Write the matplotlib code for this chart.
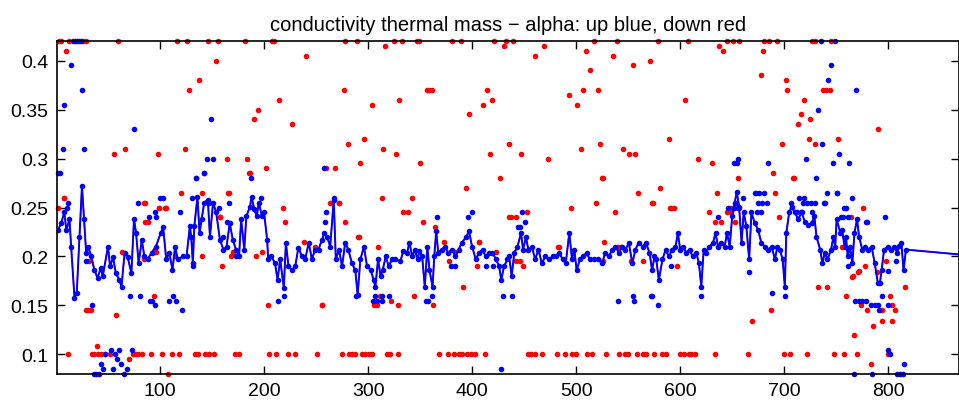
import matplotlib
matplotlib.use("Agg")
import matplotlib.pyplot as plt

# ---- donnees ----
# courbe lissee (bleue)
ligne_x = [2, 5, 8, 10, 13, 14.6, 17.8, 20, 22.6, 25, 27, 29, 31, 34, 37, 40, 43, 45, 50, 52, 55, 57.5, 61, 63, 66,
           69, 72.5, 75, 77, 79.5, 82.5, 85, 88, 92, 96, 100.7, 103, 106, 109, 112, 114.5, 117, 122, 125.5, 128.7,
           130, 131.6, 133, 136, 138, 140, 142.5, 146, 148, 151, 154, 157.6, 161, 164, 167, 170, 173, 176, 178,
           181, 183, 186.5, 188, 190.7, 193, 195, 198, 200, 203, 204, 207, 210.6, 213, 215.5, 219, 221, 223.5,
           226.7, 230, 233, 236.5, 239.5, 243, 246, 249, 252.4, 255.6, 258, 260.7, 263.6, 267, 269, 272, 275, 278,
           281, 284.5, 287.7, 290, 292.6, 296, 299, 302.5, 305.4, 307, 309.6, 312, 314, 317, 319.8, 323, 326, 331,
           334, 337.5, 339.8, 342.4, 345, 347.6, 349.4, 352, 354.5, 357, 359, 362, 363.6, 365.5, 367.4, 370.6,
           373.8, 377, 381, 384, 387, 390, 394.4, 397, 400, 403.6, 406.6, 410, 413, 416.5, 419.5, 423, 426, 428,
           430.7, 434, 435.6, 438, 440.6, 443.6, 447, 449, 451.8, 454, 457.5, 460.6, 463.8, 467, 470.3, 473.5,
           477.3, 480.5, 483.7, 487, 490, 493.4, 496, 498.2, 500.5, 503.6, 506.8, 510, 513, 516.7, 520.8, 525, 528,
           531.4, 534.6, 537.7, 541, 544, 547.4, 550.6, 554, 557, 560, 564, 567, 570.5, 573, 575.3, 577, 579.5,
           583, 586, 589, 592.3, 595.5, 597.8, 600, 602.6, 605.8, 609, 612, 615.5, 618, 620.3, 622.6, 625, 628,
           631.6, 634, 636.4, 639.5, 642.7, 645, 647.6, 650, 652.4, 654.4, 656.6, 659, 661, 663.6, 666.3, 668.5,
           671.7, 675, 678, 681.3, 684.6, 688, 691, 693.5, 695.8, 698.5, 700.6, 702, 704.8, 707, 710.2, 713.4,
           716.7, 720, 723, 726.3, 729, 731, 734.6, 736.7, 739, 741.6, 745, 747.3, 749, 750.4, 754, 755.6, 758,
           759.4, 761, 763.2, 765.5, 767.5, 770, 772, 775, 777.7, 781, 784, 787, 790, 792, 793.6, 796, 799.5, 803,
           806, 808.6, 810.5, 812.6, 814.7, 817, 869]
ligne_y = [0.227, 0.234, 0.245, 0.227, 0.238, 0.21, 0.158, 0.163, 0.22, 0.272, 0.238, 0.204, 0.21, 0.2, 0.186,
           0.178, 0.188, 0.18, 0.21, 0.19, 0.199, 0.183, 0.176, 0.169, 0.204, 0.199, 0.183, 0.238, 0.224, 0.193,
           0.217, 0.2, 0.197, 0.204, 0.21, 0.224, 0.23, 0.197, 0.204, 0.186, 0.21, 0.197, 0.2, 0.2, 0.231, 0.22,
           0.193, 0.231, 0.261, 0.224, 0.238, 0.255, 0.258, 0.22, 0.255, 0.245, 0.217, 0.207, 0.21, 0.234, 0.217,
           0.207, 0.2, 0.238, 0.207, 0.241, 0.251, 0.261, 0.248, 0.241, 0.255, 0.241, 0.245, 0.217, 0.197, 0.2,
           0.193, 0.176, 0.197, 0.168, 0.214, 0.19, 0.186, 0.19, 0.209, 0.2, 0.197, 0.214, 0.197, 0.207, 0.207,
           0.217, 0.224, 0.22, 0.21, 0.258, 0.197, 0.207, 0.19, 0.214, 0.207, 0.193, 0.186, 0.161, 0.197, 0.21,
           0.19, 0.186, 0.176, 0.169, 0.197, 0.18, 0.186, 0.2, 0.19, 0.197, 0.197, 0.195, 0.206, 0.204, 0.214,
           0.2, 0.207, 0.197, 0.206, 0.2, 0.169, 0.21, 0.186, 0.169, 0.2, 0.226, 0.204, 0.207, 0.21, 0.204, 0.207,
           0.2, 0.207, 0.214, 0.22, 0.226, 0.21, 0.197, 0.204, 0.207, 0.2, 0.204, 0.204, 0.197, 0.19, 0.176, 0.19,
           0.197, 0.2, 0.18, 0.204, 0.21, 0.224, 0.207, 0.22, 0.207, 0.21, 0.197, 0.207, 0.193, 0.2, 0.197, 0.2,
           0.2, 0.204, 0.197, 0.193, 0.224, 0.197, 0.207, 0.186, 0.197, 0.2, 0.204, 0.197, 0.197, 0.197, 0.193,
           0.204, 0.2, 0.207, 0.21, 0.204, 0.21, 0.207, 0.214, 0.193, 0.207, 0.214, 0.21, 0.214, 0.204, 0.186,
           0.2, 0.197, 0.176, 0.197, 0.207, 0.2, 0.207, 0.21, 0.224, 0.207, 0.21, 0.204, 0.207, 0.2, 0.204,
           0.193, 0.169, 0.207, 0.204, 0.21, 0.214, 0.224, 0.21, 0.214, 0.21, 0.224, 0.21, 0.241, 0.255, 0.266,
           0.251, 0.214, 0.245, 0.231, 0.197, 0.245, 0.234, 0.227, 0.214, 0.21, 0.207, 0.21, 0.197, 0.21, 0.207,
           0.197, 0.169, 0.224, 0.245, 0.251, 0.245, 0.238, 0.245, 0.235, 0.232, 0.234, 0.241, 0.22, 0.207, 0.193,
           0.204, 0.197, 0.207, 0.22, 0.21, 0.238, 0.224, 0.227, 0.21, 0.22, 0.2, 0.21, 0.193, 0.224, 0.238,
           0.22, 0.207, 0.21, 0.207, 0.21, 0.193, 0.173, 0.173, 0.186, 0.207, 0.21, 0.207, 0.21, 0.204, 0.211,
           0.214, 0.186, 0.207, 0.202]

# bornes ou les valeurs sont ecretees
val_haut = 0.42
val_bas_rouge = 0.1
val_bas_bleu = 0.08

# points bleus (up) hors de la courbe
bleu_haut_x = [16, 18, 20, 22, 24, 735, 749]
bleu_bas_x = [36.4, 38.7, 41.2, 65.4, 766.8, 784.5, 808, 811, 814]
bleu_x = [2, 4, 14.6, 8, 6.6, 25, 27, 75, 149, 145, 151, 135, 142, 187, 197, 12, 11, 29, 34.9, 70.8, 80.7, 90,
          92.7, 95, 109, 112.8, 115, 121, 213, 219, 43, 45, 46.8, 52.5, 54.8, 56.4, 58.6, 60.5, 62.8, 68.6, 73,
          79, 89, 95.6, 100, 103, 119, 96, 130.6, 134.7, 142.5, 147, 132, 157, 164, 161, 166, 146, 173, 257.7,
          267, 259, 260, 305, 309, 313, 307, 313, 320, 355.6, 357.5, 361, 288, 427.5, 430, 438, 540, 554.5, 556,
          573, 579, 365.8, 396, 400, 443.7, 448.4, 451, 446, 380, 383.5, 413, 420, 572, 620.3, 666.3, 688.7,
          700.6, 768.5, 772, 775, 779, 783, 787, 790.6, 791, 793.6, 800, 800, 802, 815.3, 797, 778.5, 759, 756.7,
          651.7, 655.5, 675, 683, 678, 706.5, 718, 722, 726, 729.5, 738.5, 712, 716, 744.6, 742.4, 768.7, 732.7,
          736.6, 752.9, 656, 652, 655, 684.6, 720.5, 746.6, 762.7, 731, 680.7, 741, 751, 765, 750.6, 739, 757,
          755, 761, 727, 779.4, 761, 799.5, 807, 636.5, 646, 660.5, 672, 676, 679, 674, 591, 714, 719]
bleu_y = [0.285, 0.285, 0.395, 0.355, 0.31, 0.37, 0.31, 0.33, 0.34, 0.3, 0.3, 0.28, 0.285, 0.28, 0.26, 0.255,
          0.25, 0.195, 0.15, 0.16, 0.16, 0.155, 0.155, 0.15, 0.155, 0.16, 0.155, 0.145, 0.155, 0.16, 0.09, 0.085,
          0.1, 0.105, 0.085, 0.1, 0.095, 0.105, 0.09, 0.085, 0.105, 0.255, 0.24, 0.245, 0.26, 0.26, 0.245, 0.24,
          0.26, 0.28, 0.285, 0.255, 0.19, 0.25, 0.235, 0.22, 0.255, 0.255, 0.2, 0.29, 0.26, 0.235, 0.245, 0.155,
          0.155, 0.155, 0.16, 0.16, 0.16, 0.155, 0.155, 0.16, 0.16, 0.085, 0.16, 0.16, 0.155, 0.16, 0.155, 0.16,
          0.15, 0.24, 0.24, 0.245, 0.23, 0.245, 0.235, 0.23, 0.19, 0.19, 0.19, 0.19, 0.16, 0.16, 0.184, 0.163,
          0.16, 0.155, 0.155, 0.155, 0.155, 0.15, 0.15, 0.15, 0.145, 0.16, 0.15, 0.105, 0.1, 0.09, 0.24, 0.235,
          0.25, 0.24, 0.25, 0.25, 0.255, 0.255, 0.245, 0.255, 0.255, 0.255, 0.255, 0.255, 0.255, 0.245, 0.245,
          0.395, 0.38, 0.37, 0.35, 0.315, 0.305, 0.3, 0.295, 0.295, 0.295, 0.3, 0.295, 0.295, 0.28, 0.265,
          0.265, 0.265, 0.26, 0.265, 0.255, 0.25, 0.24, 0.24, 0.245, 0.235, 0.19, 0.185, 0.195, 0.24, 0.25,
          0.26, 0.265, 0.265, 0.255, 0.245, 0.19, 0.26, 0.26]

# points rouges (down)
rouge_haut_x = [2.7, 5, 13, 26, 28.5, 60, 116, 126, 146, 156, 182, 207.7, 210, 278, 289, 325, 333, 347, 349,
                381, 389, 421, 433, 439, 517, 539, 579, 607.5, 645.3, 650.8, 657, 681, 685.5, 693, 727, 729.5,
                745]
rouge_bas_x = [11.4, 34.5, 37, 40, 43.6, 46.8, 51.6, 74, 76.5, 79, 83, 91.7, 102, 111.6, 118, 133.5, 136.5,
               143, 147, 152, 172, 176, 205, 211.6, 223.5, 230, 251, 275, 282, 284.5, 287, 294, 297, 300.6,
               303.5, 318, 321.5, 328.5, 368, 377, 382.5, 387, 390.6, 395.4, 399, 402.4, 412, 454, 457, 460,
               467, 481.5, 489, 495.6, 500, 510, 515, 528.7, 541, 547, 549.7, 558.6, 564, 567, 575, 582.4,
               586.6, 600.3, 603.6, 608.5, 610.7, 613.9, 633, 665.3, 699.6, 705.4, 722, 748, 757.5, 769.7, 799.3]
rouge_x = [10, 8, 55.7, 66, 98, 124, 128, 137.7, 154, 120, 140, 166, 164, 184, 186, 190, 194, 202, 214, 227,
           240, 316.7, 430.7, 460.6, 469, 509, 513, 535, 555, 276.5, 304, 330, 357, 359, 361, 397, 410.5, 414.7,
           419, 492.8, 501, 507, 521, 280.7, 296.4, 314, 326.6, 292.6, 350, 435, 417, 446.8, 473, 505, 523, 545,
           551, 557, 260, 268, 427, 525, 394.5, 559, 313, 342, 637.4, 641, 680, 571.4, 677.5, 701.6, 703, 737,
           740, 744, 605, 719, 715.7, 725, 713.5, 790, 589.5, 723.7, 751.4, 697.4, 729.5, 617, 631, 689, 655.6,
           709.6, 581, 635.7, 673, 691, 39.7, 70, 108, 29, 34, 58, 94, 204, 86, 220, 218, 2, 86, 98.7, 106, 160,
           158, 31.6, 198, 192.6, 170, 95.6, 238, 114.3, 391, 255.6, 344.6, 362.6, 306, 309, 291, 310, 334, 338,
           352.6, 364, 277.6, 263.6, 271.6, 406.6, 378, 384, 405, 423, 437, 442.6, 453, 442, 446, 495, 519, 537,
           527, 482.7, 553, 543, 783.5, 767.5, 785.8, 793.8, 804, 669.4, 687.5, 806.5, 794, 779.4, 774, 759.4,
           801.5, 804, 732.8, 741.5, 815.7, 765.6, 771, 789, 798, 695, 633, 653, 764, 776, 755.6, 627.7, 573.7,
           591.4, 648, 652, 597, 564, 777.7, 772, 766, 590, 594, 708.7, 645, 649, 654, 657, 639.6, 525.5, 573,
           540, 484, 449, 526, 311, 322.5, 329, 407, 435.5, 373, 165.6, 157.6, 186.5, 168.6, 249, 272, 290.6,
           256, 7.5, 31, 85, 88, 99, 105, 140, 63, 96, 130, 84.5]
rouge_y = [0.41, 0.26, 0.305, 0.31, 0.305, 0.31, 0.37, 0.38, 0.4, 0.265, 0.265, 0.265, 0.3, 0.3, 0.285, 0.34,
           0.35, 0.29, 0.36, 0.335, 0.405, 0.415, 0.415, 0.405, 0.415, 0.41, 0.39, 0.405, 0.395, 0.37, 0.355,
           0.36, 0.37, 0.37, 0.37, 0.345, 0.355, 0.37, 0.36, 0.365, 0.355, 0.37, 0.37, 0.315, 0.32, 0.31, 0.305,
           0.295, 0.295, 0.315, 0.305, 0.305, 0.3, 0.31, 0.315, 0.31, 0.305, 0.305, 0.29, 0.29, 0.28, 0.28, 0.27,
           0.265, 0.26, 0.26, 0.415, 0.41, 0.41, 0.4, 0.385, 0.38, 0.37, 0.37, 0.37, 0.37, 0.36, 0.36, 0.345,
           0.34, 0.335, 0.33, 0.32, 0.32, 0.32, 0.315, 0.315, 0.3, 0.295, 0.285, 0.28, 0.28, 0.27, 0.265, 0.265,
           0.265, 0.109, 0.095, 0.08, 0.145, 0.145, 0.14, 0.16, 0.15, 0.235, 0.235, 0.25, 0.25, 0.255, 0.25,
           0.25, 0.19, 0.24, 0.195, 0.205, 0.2, 0.205, 0.205, 0.215, 0.2, 0.169, 0.15, 0.16, 0.15, 0.15, 0.15,
           0.22, 0.21, 0.245, 0.245, 0.235, 0.23, 0.235, 0.255, 0.255, 0.215, 0.195, 0.205, 0.19, 0.205, 0.24,
           0.24, 0.245, 0.195, 0.195, 0.25, 0.255, 0.245, 0.215, 0.21, 0.195, 0.21, 0.09, 0.12, 0.129, 0.134,
           0.134, 0.134, 0.145, 0.145, 0.145, 0.145, 0.15, 0.16, 0.16, 0.15, 0.169, 0.169, 0.169, 0.179, 0.184,
           0.184, 0.195, 0.24, 0.235, 0.235, 0.24, 0.25, 0.21, 0.245, 0.255, 0.25, 0.25, 0.25, 0.19, 0.195,
           0.19, 0.185, 0.18, 0.25, 0.25, 0.28, 0.245, 0.245, 0.255, 0.25, 0.235, 0.28, 0.255, 0.21, 0.21, 0.19,
           0.195, 0.16, 0.155, 0.15, 0.215, 0.24, 0.215, 0.265, 0.24, 0.285, 0.2, 0.21, 0.255, 0.22, 0.15, 0.26,
           0.145, 0.255, 0.235, 0.25, 0.25, 0.2, 0.205, 0.205, 0.22, 0.197]

titre = "conductivity thermal mass \u2212 alpha: up blue, down red"
x_ticks = [100, 200, 300, 400, 500, 600, 700, 800]
y_ticks = [0.1, 0.15, 0.2, 0.25, 0.3, 0.35, 0.4]

# ---- figure ----
plt.rcParams['font.family'] = ['Liberation Sans', 'DejaVu Sans']
fig = plt.figure(figsize=(9.59, 4.06), dpi=100)
ax = fig.add_axes([57 / 959, 1 - 375 / 406, 902 / 959, 333 / 406])

ms = 4.0
# points rouges d'abord, la courbe bleue par dessus
ax.plot(rouge_x, rouge_y, 'o', color='#ff0000', ms=ms, mew=0, clip_on=False)
ax.plot(rouge_haut_x, [val_haut] * len(rouge_haut_x), 'o', color='#ff0000', ms=ms, mew=0, clip_on=False)
ax.plot(rouge_bas_x, [val_bas_rouge] * len(rouge_bas_x), 'o', color='#ff0000', ms=ms, mew=0, clip_on=False)

ax.plot(ligne_x, ligne_y, '-', color='#ff0000', lw=1.0)
ax.plot(ligne_x, ligne_y, '-', color='#0000ff', lw=1.4)
ax.plot(ligne_x[:-1], ligne_y[:-1], 'o', color='#0000ff', ms=ms, mew=0)
ax.plot(bleu_x, bleu_y, 'o', color='#0000ff', ms=ms, mew=0, clip_on=False)
ax.plot(bleu_haut_x, [val_haut] * len(bleu_haut_x), 'o', color='#0000ff', ms=ms, mew=0, clip_on=False)
ax.plot(bleu_bas_x, [val_bas_bleu] * len(bleu_bas_x), 'o', color='#0000ff', ms=ms, mew=0, clip_on=False)

ax.set_xlim(1, 868)
ax.set_ylim(0.08, 0.42)
ax.set_xticks(x_ticks)
ax.set_yticks(y_ticks)
ax.set_xticklabels([str(t) for t in x_ticks])
ax.set_yticklabels([f"{t:g}" for t in y_ticks])
ax.tick_params(direction='in', top=True, right=True, length=6, width=1.0, labelsize=14, pad=6)
for s in ax.spines.values():
    s.set_linewidth(1.2)
ax.set_title(titre, fontsize=14.5, pad=8)

fig.savefig("out.png", dpi=100)
